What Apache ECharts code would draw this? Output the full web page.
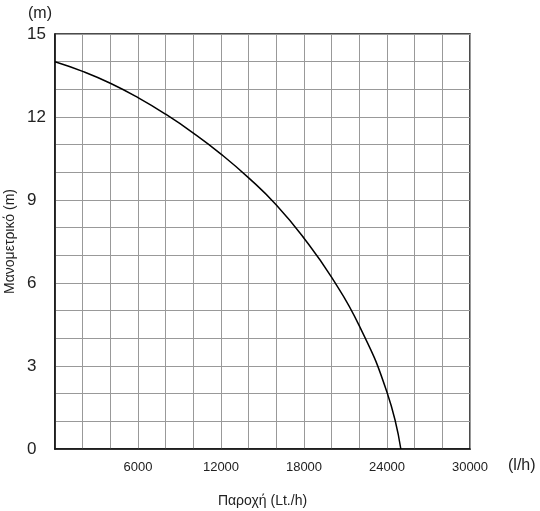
<!DOCTYPE html>
<html>
<head>
<meta charset="utf-8">
<script src="https://cdn.jsdelivr.net/npm/echarts@6/dist/echarts.min.js"></script>
<style>
  html, body { margin: 0; padding: 0; background: #fff; }
  #chart { width: 540px; height: 511px; }
</style>
</head>
<body>
<div id="chart"></div>
<script>
// pump curve, flow (l/h) vs head (m)
var flowData = [0, 2000, 4000, 6000, 8000, 10000, 12000, 14000, 16000, 18000, 20000, 22000, 24000, 25000];
var headData = [14.0, 13.65, 13.22, 12.7, 12.1, 11.42, 10.66, 9.8, 8.82, 7.62, 6.2, 4.45, 2.05, 0];
var xTickLabels = [6000, 12000, 18000, 24000, 30000];
var yTickLabels = [0, 3, 6, 9, 12, 15];

var font = "Liberation Sans, Arial, sans-serif";

var chart = echarts.init(document.getElementById("chart"));
var option = {
  animation: false,
  textStyle: { fontFamily: font },
  grid: {
    left: 55,
    top: 34,
    right: 70,
    bottom: 62,
    show: true,
    borderColor: "#111",
    borderWidth: 1.5,
    containLabel: false,
    outerBoundsMode: "none",
  },
  graphic: [
    {
      type: "text",
      left: 28,
      top: 6,
      style: { text: "(m)", fontSize: 16, fill: "#222", fontFamily: font },
    },
    {
      type: "text",
      left: 508,
      top: 458,
      style: { text: "(l/h)", fontSize: 16, fill: "#222", fontFamily: font },
    },
  ],
  xAxis: {
    type: "value",
    min: 0,
    max: 30000,
    interval: 2000,
    name: "Παροχή (Lt./h)",
    nameLocation: "middle",
    nameGap: 45,
    nameTextStyle: { fontSize: 14, color: "#222", fontFamily: font },
    axisLine: { show: true, lineStyle: { color: "#111", width: 1.5 } },
    axisTick: { show: false },
    axisLabel: {
      fontSize: 13,
      color: "#222",
      margin: 12,
      formatter: function (v) {
        return xTickLabels.indexOf(v) >= 0 ? String(v) : "";
      },
    },
    splitLine: { show: true, lineStyle: { color: "#999", width: 1 } },
  },
  yAxis: {
    type: "value",
    min: 0,
    max: 15,
    interval: 1,
    name: "Μανομετρικό (m)",
    nameLocation: "middle",
    nameRotate: 90,
    nameGap: 38,
    nameMoveOverlap: false,
    nameTextStyle: { fontSize: 14, color: "#222", fontFamily: font },
    axisLine: { show: true, lineStyle: { color: "#111", width: 1.5 } },
    axisTick: { show: false },
    axisLabel: {
      fontSize: 17,
      color: "#222",
      align: "left",
      margin: 28,
      formatter: function (v) {
        return yTickLabels.indexOf(v) >= 0 ? String(v) : "";
      },
    },
    splitLine: { show: true, lineStyle: { color: "#999", width: 1 } },
  },
  series: [
    {
      type: "line",
      smooth: true,
      symbol: "none",
      data: flowData.map(function (x, i) {
        return [x, headData[i]];
      }),
      lineStyle: { color: "#000", width: 1.5 },
    },
  ],
};
chart.setOption(option);
</script>
</body>
</html>
